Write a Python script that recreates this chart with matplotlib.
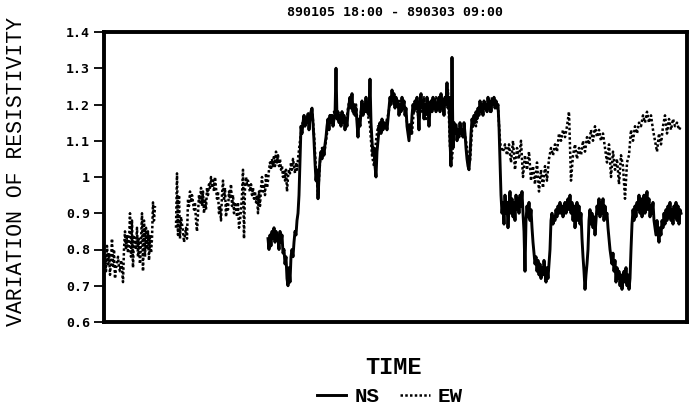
import numpy as np
import matplotlib
matplotlib.use("Agg")
import matplotlib.pyplot as plt

title_text = "890105 18:00 - 890303 09:00"
y_label = "VARIATION OF RESISTIVITY"
x_label = "TIME"
series_names = ["NS", "EW"]
y_ticks = [0.6, 0.7, 0.8, 0.9, 1.0, 1.1, 1.2, 1.3, 1.4]
y_tick_labels = ["0.6", "0.7", "0.8", "0.9", "1", "1.1", "1.2", "1.3", "1.4"]

# time in days since 890105 18:00
ew_seg_start = [0.1, 7.2, 19.6, 39.7]
ew_seg_step = [0.1, 0.1, 0.2, 0.2]
ew_seg1 = [0.78, 0.74, 0.81, 0.76, 0.79, 0.73, 0.77, 0.83, 0.75, 0.80,
           0.72, 0.75, 0.76, 0.78, 0.75, 0.74, 0.77, 0.75, 0.71, 0.80,
           0.85, 0.80, 0.84, 0.79, 0.82, 0.90, 0.78, 0.88, 0.75, 0.84,
           0.81, 0.80, 0.86, 0.78, 0.83, 0.76, 0.82, 0.90, 0.74, 0.88,
           0.78, 0.86, 0.80, 0.85, 0.77, 0.84, 0.79, 0.83, 0.93, 0.88,
           0.92]
ew_seg2 = [0.86, 1.01, 0.84, 0.95, 0.83, 0.89, 0.87, 0.85, 0.82, 0.84,
           0.86, 0.83, 0.94, 0.92, 0.96, 0.93, 0.95, 0.93, 0.91, 0.93,
           0.88, 0.85, 0.90, 0.95, 0.93, 0.97, 0.92, 0.96, 0.90, 0.94,
           0.91, 0.97, 0.95, 0.98, 0.97, 1.00, 0.97, 0.99, 0.96, 1.00,
           0.97, 0.94, 0.96, 0.90, 0.92, 0.88, 0.95, 0.99, 0.94, 0.97,
           0.89, 0.93, 0.91, 0.96, 0.94, 0.98, 0.92, 0.95, 0.90, 0.93,
           0.92, 0.89, 0.93, 0.86, 0.88, 0.91, 0.95, 1.02, 0.83, 0.97,
           1.00, 0.98, 0.99, 0.97, 0.96, 0.98, 0.95, 0.97, 0.94, 0.96,
           0.93, 0.95, 0.90, 0.96, 0.92, 0.97, 1.00, 0.96, 0.98, 0.95,
           1.01, 0.97, 0.99, 1.02, 1.04, 1.02, 1.05, 1.03, 1.06, 1.03,
           1.07, 1.04, 1.06, 1.03, 1.05, 1.02, 1.03, 1.00, 1.02, 0.99,
           1.02, 0.96, 1.00, 1.02, 1.01, 1.04, 1.02, 1.05, 1.03, 1.01,
           1.04, 1.02, 1.05]
ew_seg3 = [1.10, 1.14, 1.17, 1.15, 1.18, 1.16, 1.19, 1.12, 1.02, 0.95,
           1.04, 1.08, 1.06, 1.10, 1.14, 1.17, 1.15, 1.18, 1.16, 1.17,
           1.15, 1.18, 1.16, 1.14, 1.19, 1.22, 1.20, 1.17, 1.20, 1.13,
           1.16, 1.20, 1.18, 1.21, 1.17, 1.14, 1.06, 1.03, 1.10, 1.14,
           1.12, 1.15, 1.14, 1.15, 1.17, 1.20, 1.23, 1.20, 1.21, 1.19,
           1.21, 1.18, 1.21, 1.17, 1.13, 1.15, 1.12, 1.19, 1.21, 1.17,
           1.21, 1.18, 1.22, 1.16, 1.20, 1.18, 1.21, 1.19, 1.22, 1.19,
           1.21, 1.19, 1.22, 1.20, 1.24, 1.08, 1.05, 1.12, 1.15, 1.11,
           1.14, 1.12, 1.13, 1.10, 1.06, 1.04, 1.13, 1.16, 1.14, 1.18,
           1.20, 1.18, 1.21, 1.19, 1.21, 1.18, 1.22, 1.20, 1.21, 1.19,
           1.10]
ew_seg4 = [1.08, 1.07, 1.09, 1.06, 1.09, 1.04, 1.10, 1.02, 1.08, 1.05,
           1.10, 1.00, 1.06, 1.02, 1.07, 0.99, 1.03, 0.98, 1.04, 0.96,
           1.02, 0.97, 1.03, 0.99, 1.05, 1.08, 1.06, 1.09, 1.07, 1.12,
           1.10, 1.13, 1.11, 1.14, 1.18, 0.99, 1.06, 1.09, 1.05, 1.08,
           1.06, 1.10, 1.07, 1.11, 1.09, 1.13, 1.10, 1.14, 1.11, 1.13,
           1.10, 1.12, 1.08, 1.04, 1.09, 1.00, 1.07, 1.02, 1.05, 0.98,
           1.06, 1.03, 0.94, 1.04, 1.06, 1.13, 1.10, 1.14, 1.12, 1.15,
           1.14, 1.17, 1.15, 1.18, 1.15, 1.17, 1.13, 1.10, 1.07, 1.12,
           1.09, 1.14, 1.17, 1.12, 1.16, 1.13, 1.16, 1.14, 1.15, 1.13,
           1.14]

ns_start = 16.4
ns_step = 0.1
ns_values = [0.83, 0.80, 0.84, 0.81, 0.85, 0.83, 0.86, 0.82, 0.85, 0.84,
             0.83, 0.80, 0.85, 0.82, 0.84, 0.79, 0.80, 0.76, 0.78, 0.72,
             0.70, 0.75, 0.71, 0.78, 0.80, 0.78, 0.82, 0.85, 0.84, 0.88,
             0.90, 0.95, 1.05, 1.14, 1.12, 1.15, 1.17, 1.14, 1.16, 1.15,
             1.17, 1.13, 1.16, 1.18, 1.19, 1.15, 1.10, 1.04, 0.99, 1.02,
             0.94, 1.00, 1.05, 1.07, 1.05, 1.08, 1.06, 1.09, 1.11, 1.14,
             1.16, 1.13, 1.17, 1.15, 1.17, 1.14, 1.16, 1.17, 1.30, 1.16,
             1.18, 1.15, 1.17, 1.14, 1.18, 1.15, 1.17, 1.13, 1.16, 1.14,
             1.18, 1.20, 1.22, 1.19, 1.23, 1.18, 1.20, 1.17, 1.19, 1.15,
             1.11, 1.16, 1.14, 1.18, 1.21, 1.17, 1.20, 1.18, 1.22, 1.18,
             1.20, 1.17, 1.27, 1.15, 1.10, 1.06, 1.08, 1.03, 1.00, 1.07,
             1.10, 1.13, 1.15, 1.12, 1.16, 1.13, 1.15, 1.14, 1.15, 1.13,
             1.16, 1.19, 1.22, 1.20, 1.24, 1.21, 1.23, 1.19, 1.22, 1.20,
             1.21, 1.17, 1.20, 1.18, 1.22, 1.19, 1.21, 1.17, 1.19, 1.14,
             1.12, 1.10, 1.14, 1.12, 1.17, 1.20, 1.18, 1.21, 1.19, 1.22,
             1.18, 1.13, 1.20, 1.23, 1.19, 1.21, 1.16, 1.20, 1.18, 1.22,
             1.19, 1.14, 1.19, 1.21, 1.18, 1.22, 1.19, 1.21, 1.18, 1.20,
             1.19, 1.22, 1.18, 1.23, 1.19, 1.21, 1.17, 1.22, 1.20, 1.26,
             1.19, 1.22, 1.10, 1.03, 1.33, 1.08, 1.15, 1.12, 1.14, 1.10,
             1.13, 1.11, 1.15, 1.12, 1.13, 1.11, 1.15, 1.12, 1.08, 1.05,
             1.03, 1.02, 1.06, 1.12, 1.16, 1.14, 1.17, 1.15, 1.18, 1.16,
             1.19, 1.17, 1.21, 1.18, 1.20, 1.17, 1.21, 1.19, 1.20, 1.18,
             1.22, 1.19, 1.21, 1.18, 1.21, 1.20, 1.22, 1.19, 1.21, 1.19,
             1.20, 1.14, 1.05, 0.95, 0.90, 0.93, 0.87, 0.95, 0.90, 0.93,
             0.86, 0.92, 0.96, 0.90, 0.94, 0.89, 0.93, 0.88, 0.95, 0.91,
             0.94, 0.90, 0.95, 0.92, 0.96, 0.90, 0.85, 0.74, 0.88, 0.92,
             0.89, 0.93, 0.88, 0.91, 0.86, 0.82, 0.79, 0.76, 0.78, 0.74,
             0.77, 0.73, 0.76, 0.72, 0.75, 0.73, 0.77, 0.74, 0.71, 0.75,
             0.72, 0.76, 0.80, 0.88, 0.90, 0.87, 0.89, 0.88, 0.91, 0.89,
             0.92, 0.90, 0.93, 0.90, 0.92, 0.89, 0.91, 0.93, 0.90, 0.92,
             0.94, 0.91, 0.95, 0.90, 0.93, 0.88, 0.92, 0.86, 0.90, 0.93,
             0.88, 0.92, 0.87, 0.90, 0.83, 0.78, 0.74, 0.69, 0.73, 0.76,
             0.80, 0.88, 0.91, 0.87, 0.90, 0.86, 0.89, 0.84, 0.88, 0.92,
             0.90, 0.94, 0.89, 0.93, 0.90, 0.94, 0.88, 0.92, 0.89, 0.90,
             0.86, 0.83, 0.80, 0.78, 0.76, 0.79, 0.74, 0.77, 0.71, 0.75,
             0.72, 0.74, 0.70, 0.73, 0.69, 0.72, 0.74, 0.71, 0.75, 0.70,
             0.73, 0.69, 0.72, 0.80, 0.87, 0.91, 0.88, 0.92, 0.89, 0.93,
             0.91, 0.95, 0.90, 0.94, 0.89, 0.92, 0.95, 0.90, 0.93, 0.96,
             0.91, 0.94, 0.89, 0.92, 0.90, 0.93, 0.88, 0.86, 0.84, 0.88,
             0.85, 0.82, 0.86, 0.84, 0.88, 0.86, 0.90, 0.87, 0.91, 0.88,
             0.92, 0.89, 0.93, 0.88, 0.91, 0.87, 0.92, 0.89, 0.93, 0.88,
             0.92, 0.87, 0.91, 0.90]
x_range = (0.0, 58.3)
y_range = (0.6, 1.4)

# ---- build series ----
ew_t, ew_v = [], []
segs = [ew_seg1, ew_seg2, ew_seg3, ew_seg4]
for i, (s0, st, seg) in enumerate(zip(ew_seg_start, ew_seg_step, segs)):
    t = s0 + st * np.arange(len(seg))
    ew_t.extend(t.tolist())
    ew_v.extend(seg)
    if i == 0:  # data gap
        ew_t.append(t[-1] + st)
        ew_v.append(np.nan)
ew_t = np.array(ew_t)
ew_v = np.array(ew_v)
ns_t = ns_start + ns_step * np.arange(len(ns_values))
ns_v = np.array(ns_values)

fig = plt.figure(figsize=(6.9, 4.08), dpi=100)
ax = fig.add_axes([104 / 690, 86 / 408, 583 / 690, 290 / 408])

ax.plot(ns_t, ns_v, color="black", lw=2.1, solid_joinstyle="round",
        label=series_names[0])
ax.plot(ew_t, ew_v, color="black", lw=1.8, linestyle=(0, (1, 0.9)),
        label=series_names[1])

ax.set_xlim(*x_range)
ax.set_ylim(*y_range)
ax.set_yticks(y_ticks)
ax.set_yticklabels(y_tick_labels, fontfamily="DejaVu Sans Mono",
                   fontweight="bold", fontsize=9.5)
ax.set_xticks([])
ax.tick_params(axis="y", direction="out", length=7, width=1.3, pad=3)
for sp in ax.spines.values():
    sp.set_linewidth(2.8)

fig.text(395 / 690, 1 - 13 / 408, title_text, ha="center", va="center",
         fontfamily="DejaVu Sans Mono", fontweight="bold", fontsize=9.5)
fig.text(17 / 690, 1 - 172 / 408, y_label, rotation=90, ha="center",
         va="center", fontfamily="Liberation Mono", fontsize=15.5)
fig.text(393 / 690, 1 - 367 / 408, x_label, ha="center", va="center",
         fontfamily="Liberation Mono", fontweight="bold", fontsize=17)

leg = fig.legend(loc="center", bbox_to_anchor=(390 / 690, 1 - 397 / 408),
                 ncol=2, frameon=False, handlelength=1.4, handletextpad=0.4,
                 columnspacing=1.0,
                 prop={"family": "Liberation Mono", "weight": "bold",
                       "size": 15})

fig.savefig("out.png", dpi=100)
